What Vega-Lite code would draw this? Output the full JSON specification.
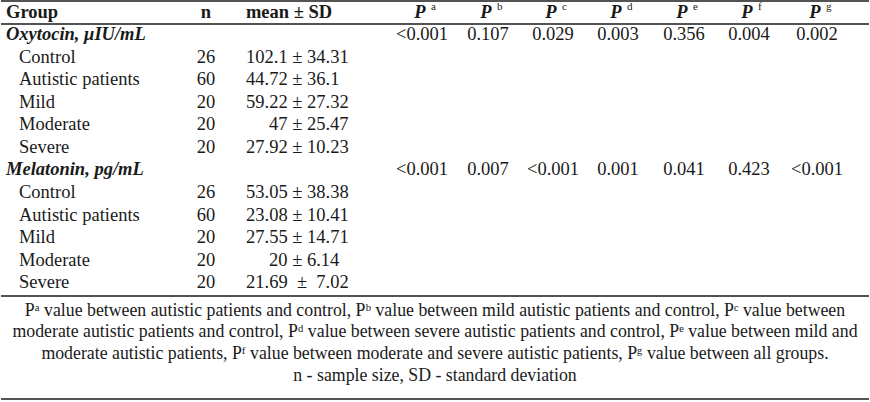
{
  "$schema": "https://vega.github.io/schema/vega-lite/v6.json",
  "width": 870,
  "height": 402,
  "padding": 0,
  "autosize": {"type": "fit", "contains": "padding"},
  "background": "white",
  "config": {
    "view": {"stroke": null}
  },
  "data": {
    "values": [
      {"k": "rule", "r": -0.49},
      {"k": "rule", "r": 0.53},
      {"k": "rule", "r": 12.62},
      {"k": "rule", "r": 17.2},
      {"k": "hl", "r": 0, "c": 0, "t": "Group"},
      {"k": "hc", "r": 0, "c": 2, "t": "n"},
      {"k": "hc", "r": 0, "c": 5, "t": "mean ± SD"},
      {"k": "hp", "r": 0, "c": 6, "t": "P", "s": "a"},
      {"k": "hp", "r": 0, "c": 7, "t": "P", "s": "b"},
      {"k": "hp", "r": 0, "c": 8, "t": "P", "s": "c"},
      {"k": "hp", "r": 0, "c": 9, "t": "P", "s": "d"},
      {"k": "hp", "r": 0, "c": 10, "t": "P", "s": "e"},
      {"k": "hp", "r": 0, "c": 11, "t": "P", "s": "f"},
      {"k": "hp", "r": 0, "c": 12, "t": "P", "s": "g"},
      {"k": "cat", "r": 1, "c": 0, "t": "Oxytocin, μIU/mL"},
      {"k": "v", "r": 1, "c": 6, "t": "<0.001"},
      {"k": "v", "r": 1, "c": 7, "t": "0.107"},
      {"k": "v", "r": 1, "c": 8, "t": "0.029"},
      {"k": "v", "r": 1, "c": 9, "t": "0.003"},
      {"k": "v", "r": 1, "c": 10, "t": "0.356"},
      {"k": "v", "r": 1, "c": 11, "t": "0.004"},
      {"k": "v", "r": 1, "c": 12, "t": "0.002"},
      {"k": "sub", "r": 2, "c": 1, "t": "Control"},
      {"k": "v", "r": 2, "c": 2, "t": "26"},
      {"k": "m", "r": 2, "c": 3, "t": "102.1 ± 34.31"},
      {"k": "sub", "r": 3, "c": 1, "t": "Autistic patients"},
      {"k": "v", "r": 3, "c": 2, "t": "60"},
      {"k": "m", "r": 3, "c": 3, "t": "44.72 ± 36.1"},
      {"k": "sub", "r": 4, "c": 1, "t": "Mild"},
      {"k": "v", "r": 4, "c": 2, "t": "20"},
      {"k": "m", "r": 4, "c": 3, "t": "59.22 ± 27.32"},
      {"k": "sub", "r": 5, "c": 1, "t": "Moderate"},
      {"k": "v", "r": 5, "c": 2, "t": "20"},
      {"k": "m", "r": 5, "c": 4, "t": "47 ± 25.47"},
      {"k": "sub", "r": 6, "c": 1, "t": "Severe"},
      {"k": "v", "r": 6, "c": 2, "t": "20"},
      {"k": "m", "r": 6, "c": 3, "t": "27.92 ± 10.23"},
      {"k": "cat", "r": 7, "c": 0, "t": "Melatonin, pg/mL"},
      {"k": "v", "r": 7, "c": 6, "t": "<0.001"},
      {"k": "v", "r": 7, "c": 7, "t": "0.007"},
      {"k": "v", "r": 7, "c": 8, "t": "<0.001"},
      {"k": "v", "r": 7, "c": 9, "t": "0.001"},
      {"k": "v", "r": 7, "c": 10, "t": "0.041"},
      {"k": "v", "r": 7, "c": 11, "t": "0.423"},
      {"k": "v", "r": 7, "c": 12, "t": "<0.001"},
      {"k": "sub", "r": 8, "c": 1, "t": "Control"},
      {"k": "v", "r": 8, "c": 2, "t": "26"},
      {"k": "m", "r": 8, "c": 3, "t": "53.05 ± 38.38"},
      {"k": "sub", "r": 9, "c": 1, "t": "Autistic patients"},
      {"k": "v", "r": 9, "c": 2, "t": "60"},
      {"k": "m", "r": 9, "c": 3, "t": "23.08 ± 10.41"},
      {"k": "sub", "r": 10, "c": 1, "t": "Mild"},
      {"k": "v", "r": 10, "c": 2, "t": "20"},
      {"k": "m", "r": 10, "c": 3, "t": "27.55 ± 14.71"},
      {"k": "sub", "r": 11, "c": 1, "t": "Moderate"},
      {"k": "v", "r": 11, "c": 2, "t": "20"},
      {"k": "m", "r": 11, "c": 4, "t": "20 ± 6.14"},
      {"k": "sub", "r": 12, "c": 1, "t": "Severe"},
      {"k": "v", "r": 12, "c": 2, "t": "20"},
      {"k": "m", "r": 12, "c": 3, "t": "21.69\u00a0\u00a0±\u00a0\u00a07.02"},
      {"k": "f", "r": 12.88, "t": "Pᵃ value between autistic patients and control, Pᵇ value between mild autistic patients and control, Pᶜ value between\nmoderate autistic patients and control, Pᵈ value between severe autistic patients and control, Pᵉ value between mild and\nmoderate autistic patients, Pᶠ value between moderate and severe autistic patients, Pᵍ value between all groups.\nn - sample size, SD - standard deviation"}
    ]
  },
  "encoding": {
    "y": {"field": "r", "type": "quantitative", "axis": null,
          "scale": {"domain": [-0.533, 17.333], "reverse": true, "nice": false, "zero": false}}
  },
  "layer": [
    {
      "transform": [{"filter": "datum.k === 'rule'"}],
      "mark": {"type": "rule", "color": "#1a1a1a", "strokeWidth": 1.5},
      "encoding": {}
    },
    {
      "transform": [{"filter": "datum.k === 'hl'"}],
      "mark": {"type": "text", "font": "Liberation Serif", "fontSize": 18.5, "color": "#1a1a1a", "baseline": "middle", "align": "left", "fontWeight": "bold"},
      "encoding": {
        "x": {"field": "c", "type": "quantitative", "axis": null,
              "scale": {"domain": [0,1,2,3,4,5,6,7,8,9,10,11,12], "range": [5,18,205,245,268,288,421,487,552,617,683,748,816], "nice": false, "zero": false}},
        "text": {"field": "t"}
      }
    },
    {
      "transform": [{"filter": "datum.k === 'hc'"}],
      "mark": {"type": "text", "font": "Liberation Serif", "fontSize": 18.5, "color": "#1a1a1a", "baseline": "middle", "align": "center", "fontWeight": "bold"},
      "encoding": {
        "x": {"field": "c", "type": "quantitative", "axis": null},
        "text": {"field": "t"}
      }
    },
    {
      "transform": [{"filter": "datum.k === 'hp'"}],
      "mark": {"type": "text", "font": "Liberation Serif", "fontSize": 18.5, "color": "#1a1a1a", "baseline": "middle", "align": "center", "fontWeight": "bold", "fontStyle": "italic", "dx": -2},
      "encoding": {
        "x": {"field": "c", "type": "quantitative", "axis": null},
        "text": {"field": "t"}
      }
    },
    {
      "transform": [{"filter": "datum.k === 'hp'"}],
      "mark": {"type": "text", "font": "Liberation Serif", "fontSize": 11, "color": "#1a1a1a", "baseline": "middle", "align": "left", "dx": 9, "dy": -5},
      "encoding": {
        "x": {"field": "c", "type": "quantitative", "axis": null},
        "text": {"field": "s"}
      }
    },
    {
      "transform": [{"filter": "datum.k === 'cat'"}],
      "mark": {"type": "text", "font": "Liberation Serif", "fontSize": 18.5, "color": "#1a1a1a", "baseline": "middle", "align": "left", "fontStyle": "italic", "fontWeight": "bold"},
      "encoding": {
        "x": {"field": "c", "type": "quantitative", "axis": null},
        "text": {"field": "t"}
      }
    },
    {
      "transform": [{"filter": "datum.k === 'sub'"}],
      "mark": {"type": "text", "font": "Liberation Serif", "fontSize": 18.5, "color": "#1a1a1a", "baseline": "middle", "align": "left"},
      "encoding": {
        "x": {"field": "c", "type": "quantitative", "axis": null},
        "text": {"field": "t"}
      }
    },
    {
      "transform": [{"filter": "datum.k === 'v'"}],
      "mark": {"type": "text", "font": "Liberation Serif", "fontSize": 18.5, "color": "#1a1a1a", "baseline": "middle", "align": "center"},
      "encoding": {
        "x": {"field": "c", "type": "quantitative", "axis": null},
        "text": {"field": "t"}
      }
    },
    {
      "transform": [{"filter": "datum.k === 'm'"}],
      "mark": {"type": "text", "font": "Liberation Serif", "fontSize": 18.5, "color": "#1a1a1a", "baseline": "middle", "align": "left"},
      "encoding": {
        "x": {"field": "c", "type": "quantitative", "axis": null},
        "text": {"field": "t"}
      }
    },
    {
      "transform": [{"filter": "datum.k === 'f'"}],
      "mark": {"type": "text", "font": "Liberation Serif", "color": "#1a1a1a", "align": "center", "baseline": "top", "lineBreak": "\n", "lineHeight": 21.7, "fontSize": 17.8},
      "encoding": {
        "text": {"field": "t"}
      }
    }
  ]
}
